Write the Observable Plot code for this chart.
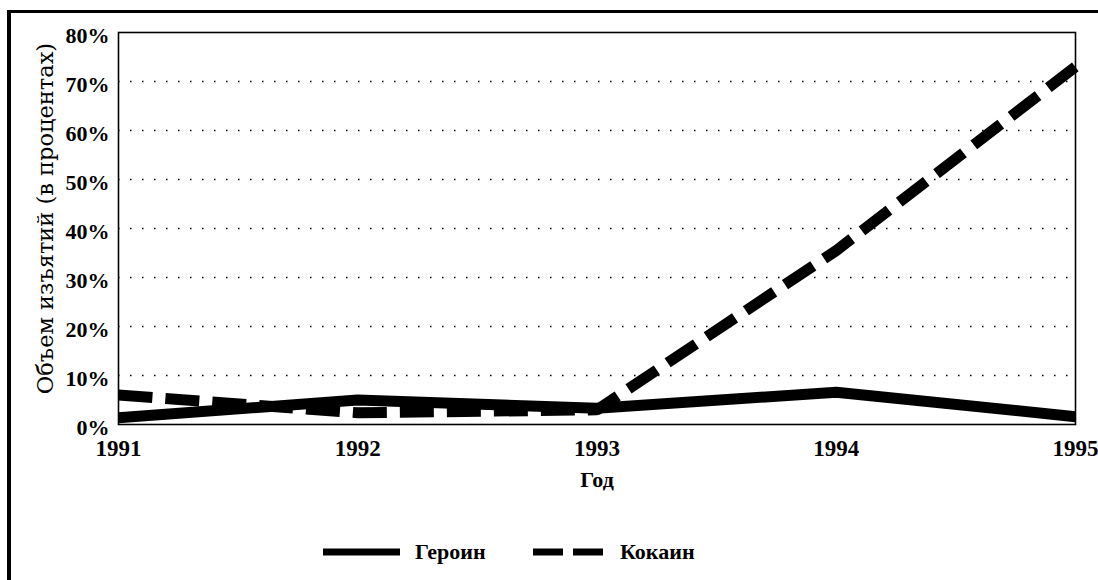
<!DOCTYPE html>
<html>
<head>
<meta charset="utf-8">
<script src="https://cdn.jsdelivr.net/npm/d3@7"></script>
<script src="https://cdn.jsdelivr.net/npm/@observablehq/plot@0.6"></script>
<style>
  html, body { margin: 0; padding: 0; background: #fff; overflow: hidden; }
  #wrap { position: relative; width: 1098px; height: 580px; overflow: hidden; }
  #border { position: absolute; left: 7px; top: 10px; width: 1200px; height: 1000px;
            border-left: 4px solid #000; border-top: 3px solid #000; pointer-events: none; }
  #chart { position: absolute; left: 0; top: 0; }
  #legend { position: absolute; left: 0; top: 538px; width: 1098px; height: 28px;
            font-family: "Liberation Serif", serif; font-weight: bold; font-size: 22px; color: #000; }
  #legend .item { position: absolute; top: 0; height: 28px; display: flex; align-items: center; }
  #legend svg { display: block; }
</style>
</head>
<body>
<div id="wrap">
  <div id="chart"></div>
  <div id="border"></div>
  <div id="legend"></div>
</div>
<script>
const years = [1991, 1992, 1993, 1994, 1995];
const heroin = [1.4, 5.0, 3.3, 6.6, 1.6];
const cocaine = [6.0, 2.4, 3.0, 35.5, 73.0];
const seriesNames = ["Героин", "Кокаин"];
const yTicks = [0, 10, 20, 30, 40, 50, 60, 70, 80];
const gridTicks = [10, 20, 30, 40, 50, 60, 70];
const xTitle = "Год";
const yTitle = "Объем изъятий (в процентах)";

const heroinData = years.map((y, i) => ({year: y, value: heroin[i]}));
const cocaineData = years.map((y, i) => ({year: y, value: cocaine[i]}));

const plot = Plot.plot({
  width: 1098,
  height: 500,
  marginLeft: 118,
  marginRight: 23,
  marginTop: 32,
  marginBottom: 76,
  style: {background: "transparent", color: "#000", fontFamily: "'Liberation Serif', serif"},
  x: {domain: [1991, 1995], ticks: years},
  y: {domain: [0, 80], ticks: yTicks},
  marks: [
    Plot.ruleY(gridTicks, {stroke: "#000", strokeWidth: 1.3, strokeDasharray: "1.5,10.5"}),
    Plot.line(heroinData, {x: "year", y: "value", stroke: "#000", strokeWidth: 11, strokeLinejoin: "round", strokeLinecap: "butt"}),
    Plot.line(cocaineData, {x: "year", y: "value", stroke: "#000", strokeWidth: 11, strokeDasharray: "34,13", strokeLinejoin: "miter", strokeLinecap: "butt"}),
    Plot.frame({stroke: "#000", strokeWidth: 1.6}),
    Plot.axisX({ticks: years, tickFormat: d => String(d), tickSize: 0, tickPadding: 15, fontSize: 23, fontWeight: "bold", label: null}),
    Plot.axisY({ticks: yTicks, tickFormat: d => d + "%", tickSize: 0, tickPadding: 9, fontSize: 22, fontWeight: "bold", label: null, dy: 3}),
    Plot.text([xTitle], {frameAnchor: "bottom", dy: 55, text: d => d, fontSize: 22, fontWeight: "bold", lineAnchor: "middle"}),
    Plot.text([yTitle], {frameAnchor: "left", dx: -73, dy: -10, rotate: -90, text: d => d, fontSize: 22.5, fontFamily: "'DejaVu Serif', serif", textAnchor: "middle", lineAnchor: "middle"})
  ]
});
document.getElementById("chart").appendChild(plot);

// Legend
const legend = document.getElementById("legend");
const items = [
  {name: seriesNames[0], left: 323, dash: null},
  {name: seriesNames[1], left: 533, dash: "30,10"}
];
items.forEach(it => {
  const div = document.createElement("div");
  div.className = "item";
  div.style.left = it.left + "px";
  const ns = "http://www.w3.org/2000/svg";
  const s = document.createElementNS(ns, "svg");
  s.setAttribute("width", it.dash ? 70 : 77);
  s.setAttribute("height", 28);
  const l = document.createElementNS(ns, "line");
  l.setAttribute("x1", 0); l.setAttribute("x2", it.dash ? 70 : 77);
  l.setAttribute("y1", 14); l.setAttribute("y2", 14);
  l.setAttribute("stroke", "#000"); l.setAttribute("stroke-width", 7);
  if (it.dash) l.setAttribute("stroke-dasharray", it.dash);
  s.appendChild(l);
  div.appendChild(s);
  const t = document.createElement("span");
  t.textContent = it.name;
  t.style.marginLeft = (it.dash ? 17 : 15) + "px";
  div.appendChild(t);
  legend.appendChild(div);
});
</script>
</body>
</html>
